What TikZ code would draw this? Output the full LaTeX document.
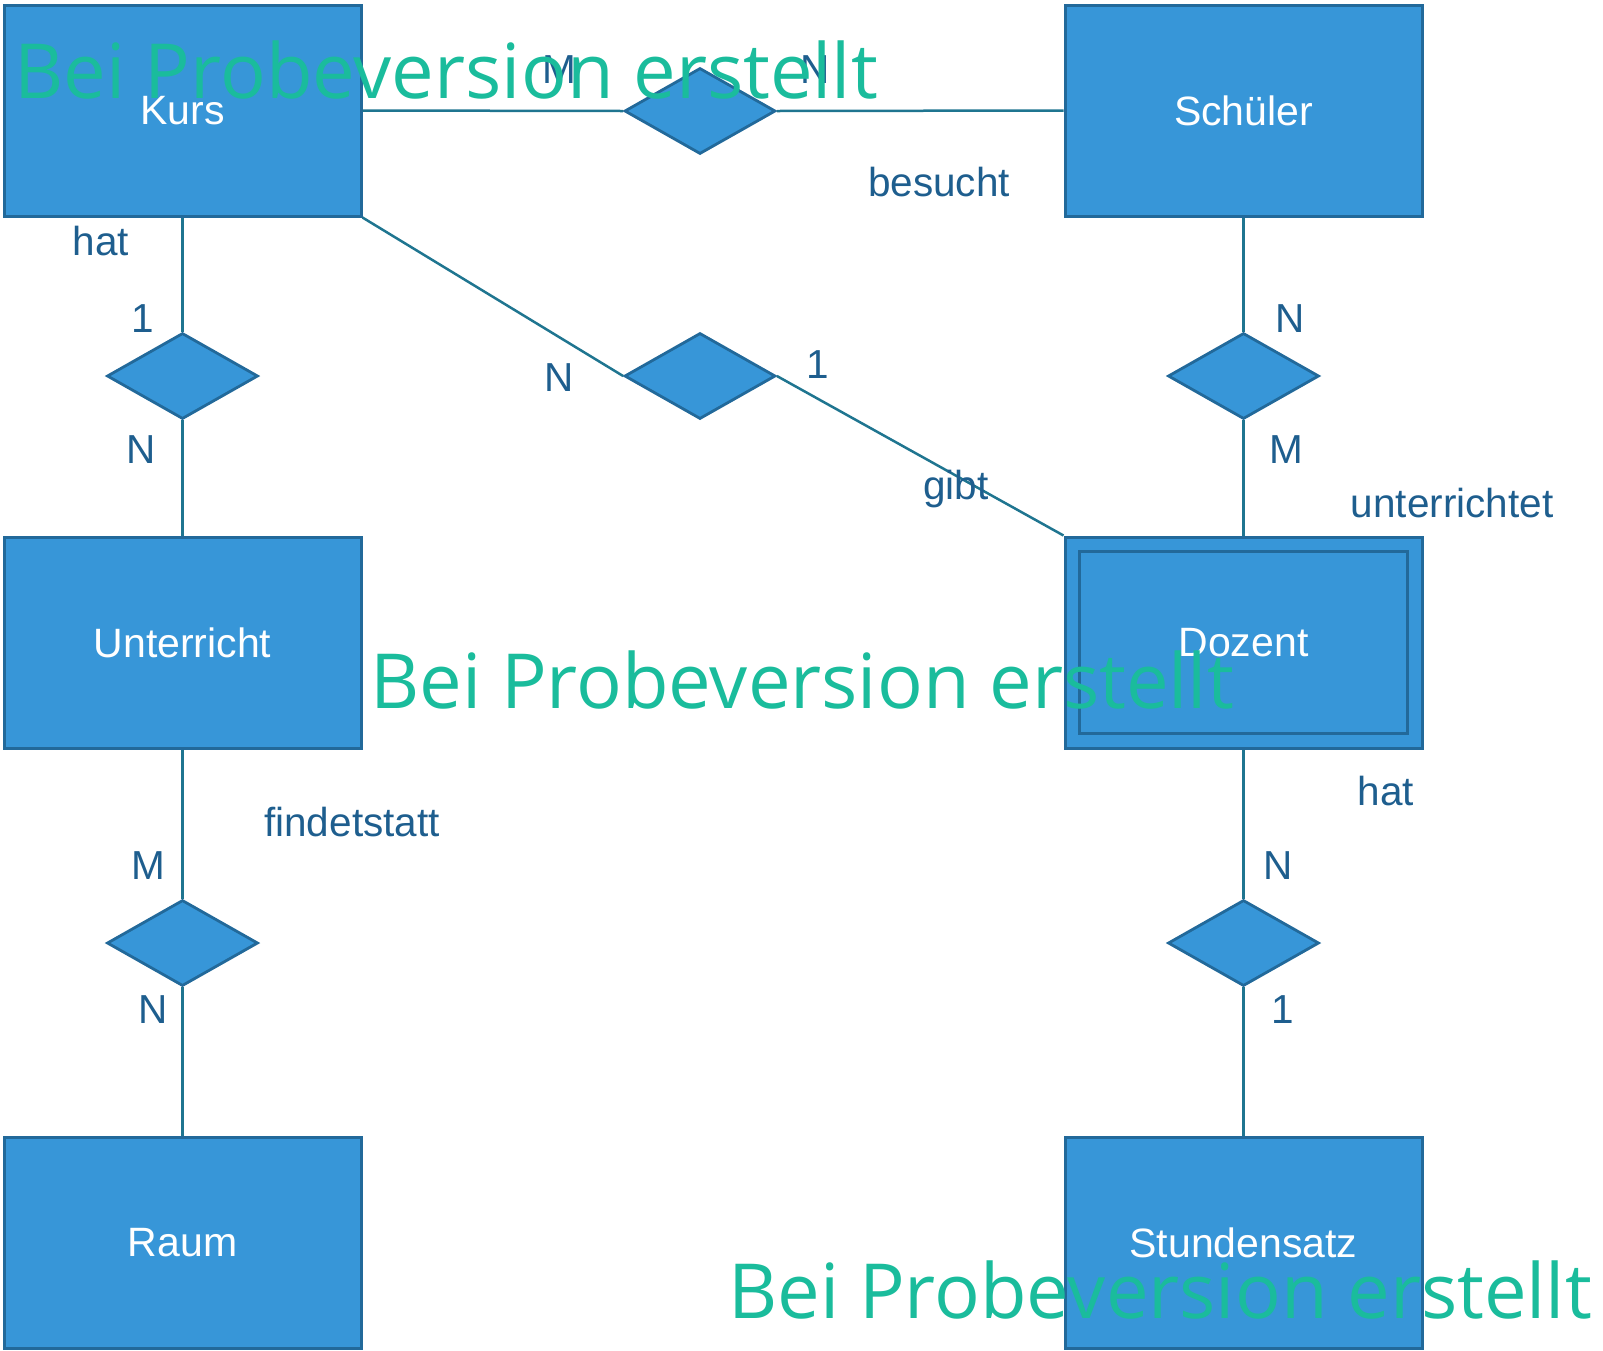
\documentclass[tikz,border=0pt]{standalone}
\usepackage{fontspec}
\setmainfont{Liberation Sans}
\newfontfamily\wmfont{Open Sans}
\usetikzlibrary{shapes.geometric, positioning, calc}
\definecolor{entblue}{HTML}{3796D8}
\definecolor{entedge}{HTML}{22699A}
\definecolor{linkteal}{HTML}{1F7590}
\definecolor{lbltext}{HTML}{1E5E8E}
\definecolor{wmgreen}{HTML}{1ABC9C}
\tikzset{
  entity/.style={draw=entedge, fill=entblue, line width=3pt, minimum width=357pt,
    minimum height=211pt, inner sep=0pt, text=white, font=\fontsize{41}{47}\selectfont},
  relation/.style={diamond, draw=entedge, fill=entblue, line width=2.8pt,
    minimum width=151pt, minimum height=86pt, inner sep=0pt},
  link/.style={draw=linkteal, line width=2.5pt},
  card/.style={text=lbltext, font=\fontsize{40.5}{46}\selectfont, inner sep=0pt},
  watermark/.style={text=wmgreen, font=\wmfont\fontsize{76}{86}\selectfont, inner sep=0pt}
}
\begin{document}
\begin{tikzpicture}[x=1pt,y=-1pt]
\useasboundingbox (0,0) rectangle (1603,1350);
% Entities
\node[entity] (kurs) at (182.5,110.5) {Kurs};
\node[entity] (schueler) at (1243.5,110.5) {Schüler};
\node[entity] (unterricht) at (182.5,642.5) {Unterricht};
\node[entity] (dozent) at (1243.5,642.5) {Dozent};
\node[entity] (raum) at (182.5,1242.5) {Raum};
\node[entity] (satz) at (1243.5,1242.5) {Stundensatz};
\draw[draw=entedge, line width=3pt] ($(dozent.north west)+(16,16)$) rectangle ($(dozent.south east)+(-16,-16)$);
% Relations
\node[relation] (besucht) at (700,111) {};
\node[relation] (kurshat) at (182.5,376) {};
\node[relation] (gibt) at (700,376) {};
\node[relation] (unterr) at (1243.5,376) {};
\node[relation] (findet) at (182.5,943) {};
\node[relation] (dozhat) at (1243.5,943) {};
% Connectors
\draw[link] (kurs.east) -- (besucht.west);
\draw[link] (besucht.east) -- (schueler.west);
\draw[link] (kurs.south) -- (kurshat.north);
\draw[link] (kurshat.south) -- (unterricht.north);
\draw[link] (kurs.south east) -- (gibt.west);
\draw[link] (gibt.east) -- (dozent.north west);
\draw[link] (schueler.south) -- (unterr.north);
\draw[link] (unterr.south) -- (dozent.north);
\draw[link] (unterricht.south) -- (findet.north);
\draw[link] (findet.south) -- (raum.north);
\draw[link] (dozent.south) -- (dozhat.north);
\draw[link] (dozhat.south) -- (satz.north);
% Labels
\node[card] (cM1) at (559,70) {M};
\node[card] (cN1) at (815,70) {N};
\node[card] (tbesucht) at (939,182) {besucht};
\node[card] (that1) at (101,241) {hat};
\node[card] (c11) at (143,319) {1};
\node[card] (cN2) at (141,450) {N};
\node[card] (cN3) at (559,378) {N};
\node[card] (c12) at (818,365) {1};
\node[card] (tgibt) at (956,489) {gibt};
\node[card] (cN4) at (1290,319) {N};
\node[card] (cM2) at (1286,450) {M};
\node[card] (tunterr) at (1452,503) {unterrichtet};
\node[card] (tfindet) at (352,822) {findetstatt};
\node[card] (cM3) at (148,866) {M};
\node[card] (cN5) at (153,1010) {N};
\node[card] (that2) at (1386,791) {hat};
\node[card] (cN6) at (1278,866) {N};
\node[card] (c13) at (1283,1010) {1};
% Watermarks
\node[watermark, anchor=west] (wm1) at (14,70) {Bei Probeversion erstellt};
\node[watermark, anchor=west] (wm2) at (370,680) {Bei Probeversion erstellt};
\node[watermark, anchor=west] (wm3) at (728,1290) {Bei Probeversion erstellt};
\end{tikzpicture}
\end{document}
